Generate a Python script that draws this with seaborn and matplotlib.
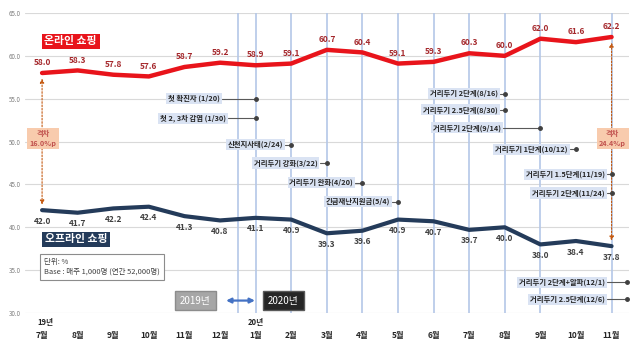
import matplotlib
matplotlib.use('Agg')
import matplotlib.pyplot as plt
import matplotlib.transforms as mtransforms
import seaborn as sns
import pandas as pd

# 월별 데이터 (19년 7월 ~ 20년 11월)
months = ['7월', '8월', '9월', '10월', '11월', '12월', '1월', '2월', '3월',
          '4월', '5월', '6월', '7월', '8월', '9월', '10월', '11월']
online = [58.0, 58.3, 57.8, 57.6, 58.7, 59.2, 58.9, 59.1, 60.7, 60.4,
          59.1, 59.3, 60.3, 60.0, 62.0, 61.6, 62.2]
offline = [42.0, 41.7, 42.2, 42.4, 41.3, 40.8, 41.1, 40.9, 39.3, 39.6,
           40.9, 40.7, 39.7, 40.0, 38.0, 38.4, 37.8]

# 이벤트 라벨
events = ['첫 확진자 (1/20)', '첫 2, 3차 감염 (1/30)', '신천지사태(2/24)',
          '거리두기 강화(3/22)', '거리두기 완화(4/20)', '긴급재난지원금(5/4)',
          '거리두기 2단계(8/16)', '거리두기 2.5단계(8/30)', '거리두기 2단계(9/14)',
          '거리두기 1단계(10/12)', '거리두기 1.5단계(11/19)', '거리두기 2단계(11/24)',
          '거리두기 2단계+알파(12/1)', '거리두기 2.5단계(12/6)']
# 라벨 오른쪽 끝, 점 위치, 높이
ev_text_x = [5.06, 5.22, 6.83, 7.8, 8.8, 9.83, 12.87, 12.87, 12.95, 14.83,
             15.87, 15.87, 15.87, 15.87]
ev_dot_x = [6, 6, 7, 8, 9, 10, 13, 13, 14, 15, 16, 16, 16.43, 16.43]
ev_y = [55.0, 52.7, 49.65, 47.5, 45.2, 43.0, 55.6, 53.7, 51.6, 49.1,
        46.2, 44.0, 33.6, 31.6]

vlines_x = [5.5, 6, 7, 8, 9, 10, 11, 12, 13, 14, 16]

RED = '#e8141b'
NAVY = '#243b5a'

sns.set_theme(style='white')
plt.rcParams['font.family'] = ['Noto Sans CJK KR', 'DejaVu Sans']

fig = plt.figure(figsize=(6.4, 3.52), dpi=100)
ax = fig.add_axes([25 / 640, 1 - 313 / 352, 604 / 640, 300 / 352])

df = pd.DataFrame({'idx': range(len(months)), 'online': online, 'offline': offline})

for x in vlines_x:
    ax.axvline(x, color='#b4c7e7', lw=1.2, zorder=1)

sns.lineplot(data=df, x='idx', y='online', color=RED, lw=3.2, ax=ax,
             zorder=4, solid_joinstyle='round', solid_capstyle='round')
sns.lineplot(data=df, x='idx', y='offline', color=NAVY, lw=3.0, ax=ax,
             zorder=4, solid_joinstyle='round', solid_capstyle='round')

for i, v in enumerate(online):
    ax.annotate(f'{v:.1f}', (i, v), xytext=(0, 7.5), textcoords='offset points',
                ha='center', va='center', fontsize=6, fontweight='bold',
                color='#a5282c', zorder=6)
for i, v in enumerate(offline):
    ax.annotate(f'{v:.1f}', (i, v), xytext=(0, -8), textcoords='offset points',
                ha='center', va='center', fontsize=6, fontweight='bold',
                color='#404040', zorder=6)

ax.set_xlim(-0.48, 16.49)
ax.set_ylim(30, 65)
ax.set_yticks(range(30, 66, 5))
ax.set_yticklabels([f'{v:.1f}' for v in range(30, 66, 5)], fontsize=4.5, color='#7f7f7f')
ax.set_xticks(range(len(months)))
ax.set_xticklabels(months, fontsize=6, fontweight='bold', color='#262626')
ax.tick_params(axis='x', length=0, pad=13)
ax.tick_params(axis='y', length=0, pad=3)
ax.grid(axis='y', color='#d9d9d9', lw=0.8)
ax.grid(axis='x', visible=False)
for s in ax.spines.values():
    s.set_visible(False)
ax.set_xlabel('')
ax.set_ylabel('')

trans = mtransforms.blended_transform_factory(ax.transData, ax.transAxes)
ax.text(0.08, -0.03, '19년', transform=trans, ha='center', va='center',
        fontsize=5.5, fontweight='bold', color='#262626')
ax.text(6, -0.03, '20년', transform=trans, ha='center', va='center',
        fontsize=5.5, fontweight='bold', color='#262626')

# 범례 박스
ax.text(0.8, 61.7, '온라인 쇼핑', ha='center', va='center', fontsize=7.8,
        fontweight='bold', color='white', zorder=7,
        bbox=dict(boxstyle='square,pad=0.25', fc=RED, ec='none'))
ax.text(0.95, 38.6, '오프라인 쇼핑', ha='center', va='center', fontsize=7.8,
        fontweight='bold', color='white', zorder=7,
        bbox=dict(boxstyle='square,pad=0.25', fc=NAVY, ec='none'))
ax.text(0.05, 35.4, '단위: %\nBase : 매주 1,000명 (연간 52,000명)', ha='left',
        va='center', fontsize=5.4, color='#404040', linespacing=1.25, zorder=7,
        bbox=dict(boxstyle='square,pad=0.55', fc='white', ec='#8c8c8c', lw=0.8))

# 연도 박스
ax.text(4.31, 31.45, '2019년', ha='center', va='center', fontsize=7,
        color='white', zorder=7,
        bbox=dict(boxstyle='square,pad=0.5', fc='#a6a6a6', ec='#8c8c8c'))
ax.text(6.78, 31.45, '2020년', ha='center', va='center', fontsize=7,
        color='white', zorder=7,
        bbox=dict(boxstyle='square,pad=0.5', fc='#262626', ec='#595959'))
ax.annotate('', xy=(5.98, 31.45), xytext=(5.17, 31.45), zorder=7,
            arrowprops=dict(arrowstyle='<|-|>', color='#4472c4', lw=1.6,
                            mutation_scale=7, shrinkA=0, shrinkB=0))

# 격차 화살표
for x, top, bot, label in [(0, online[0], offline[0], '격차\n16.0%p'),
                           (16, online[-1], offline[-1], '격차\n24.4%p')]:
    ax.annotate('', xy=(x, top), xytext=(x, bot), zorder=3,
                arrowprops=dict(arrowstyle='<|-|>', color='#c55a11', lw=0.8,
                                ls=(0, (1.5, 1.5)), mutation_scale=6,
                                shrinkA=4, shrinkB=4))
    ax.text(x + 0.03, 50.35, label, ha='center', va='center', fontsize=5.2,
            fontweight='bold', color='#c0504d', linespacing=1.4, zorder=7,
            bbox=dict(boxstyle='square,pad=0.35', fc='#f8cbad', ec='none'))

# 이벤트 라벨
for name, tx, dx, y in zip(events, ev_text_x, ev_dot_x, ev_y):
    ax.text(tx - 0.06, y, name, ha='right', va='center', fontsize=5.3,
            fontweight='bold', color='#262626', zorder=7,
            bbox=dict(boxstyle='square,pad=0.25', fc='#dae3f3', ec='none'))
    ax.plot([tx, dx], [y, y], color='#595959', lw=0.8, zorder=7)
    ax.plot([dx], [y], 'o', color='#404040', ms=2.5, zorder=7, clip_on=False)

fig.savefig('out.png', dpi=100)
